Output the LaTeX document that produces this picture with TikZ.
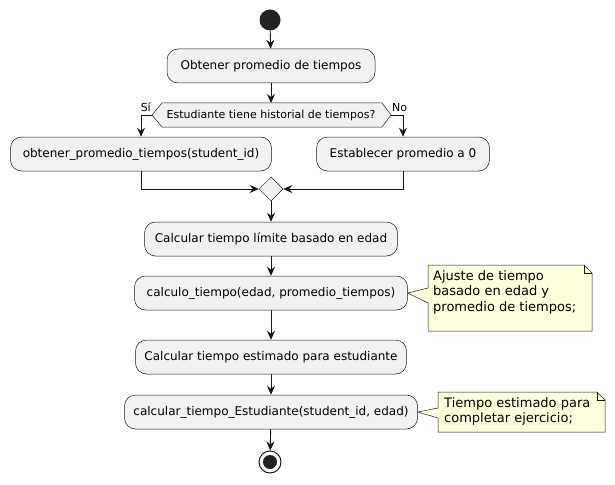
\documentclass[tikz,border=0pt]{standalone}
\usepackage{fontspec}
\setmainfont{DejaVu Sans}
\usetikzlibrary{arrows.meta,shapes.geometric}
\definecolor{boxfill}{HTML}{F1F1F1}
\definecolor{lineclr}{HTML}{181818}
\definecolor{notefill}{HTML}{FEFFDD}
\definecolor{dotclr}{HTML}{222222}
\begin{document}
\begin{tikzpicture}[x=1pt,y=-1pt,
  actbox/.style={draw=lineclr,fill=boxfill,line width=0.5pt,rounded corners=11pt,
    minimum height=34pt,inner sep=0pt,font=\fontsize{12}{14}\selectfont},
  flow/.style={draw=lineclr,line width=0.9pt,-{Stealth[length=9pt,width=8pt,inset=3pt]}},
  plain/.style={draw=lineclr,line width=0.9pt},
  notebox/.style={draw=lineclr,fill=notefill,line width=0.5pt},
  notetext/.style={align=left,anchor=north west,inner sep=0pt,font=\fontsize{13}{15.5}\selectfont},
  lbl/.style={font=\fontsize{11}{13}\selectfont,inner sep=0pt}]
\useasboundingbox (0,0) rectangle (615,484);
% start
\node[circle,fill=dotclr,minimum size=21pt,inner sep=0pt] (start) at (270,20) {};
\node[actbox,minimum width=208pt] (b1) at (271,66) {Obtener promedio de tiempos};
% decision hexagon
\coordinate (hl) at (152,115);
\coordinate (hr) at (391,115);
\draw[draw=lineclr,fill=boxfill,line width=0.5pt] (hl) -- (162,103) -- (382,103) -- (hr) -- (382,127) -- (162,127) -- cycle;
\node[lbl] (dec) at (271,115.5) {Estudiante tiene historial de tiempos?};
\node[lbl,anchor=south east] (si) at (151,112) {Sí};
\node[lbl,anchor=south west] (no) at (392,112) {No};
% branches
\node[actbox,minimum width=261pt] (b2) at (141,154) {obtener\_promedio\_tiempos(student\_id)};
\node[actbox,minimum width=173pt] (b3) at (403,154) {Establecer promedio a 0};
% merge
\node[diamond,draw=lineclr,fill=boxfill,line width=0.5pt,minimum size=24pt,inner sep=0pt] (m) at (271,189) {};
\node[actbox,minimum width=253pt] (b4) at (271,239) {Calcular tiempo límite basado en edad};
\node[actbox,minimum width=273pt] (b5) at (271,293) {calculo\_tiempo(edad, promedio\_tiempos)};
\node[actbox,minimum width=271pt] (b6) at (271,357) {Calcular tiempo estimado para estudiante};
\node[actbox,minimum width=293pt] (b7) at (271,412) {calcular\_tiempo\_Estudiante(student\_id, edad)};
% end
\node[circle,draw=lineclr,line width=1pt,fill=white,minimum size=22pt,inner sep=0pt] (end) at (270,462) {};
\node[circle,fill=dotclr,minimum size=14pt,inner sep=0pt] (endin) at (270,462) {};
% notes
\draw[notebox] (b5.east) -- (428,288) -- (428,265) -- (584,265) -- (592,273) -- (592,331) -- (428,331) -- (428,303) -- cycle;
\draw[draw=lineclr,line width=0.5pt] (584,265) -- (584,273) -- (592,273);
\node[notetext] (n1) at (433,270) {Ajuste de tiempo\\basado en edad y\\promedio de tiempos;};
\draw[notebox] (b7.east) -- (438,408) -- (438,392) -- (597,392) -- (605,400) -- (605,432) -- (438,432) -- (438,418) -- cycle;
\draw[draw=lineclr,line width=0.5pt] (597,392) -- (597,400) -- (605,400);
\node[notetext] (n2) at (444,397) {Tiempo estimado para\\completar ejercicio;};
% connectors
\draw[flow] (start) -- (b1);
\draw[flow] (b1) -- (271,103);
\draw[flow] (hl) -| (b2.north);
\draw[flow] (hr) -| (b3.north);
\draw[flow] (b2.south) |- (m.west);
\draw[flow] (b3.south) |- (m.east);
\draw[flow] (m.south) -- (b4.north);
\draw[flow] (b4) -- (b5);
\draw[flow] (b5) -- (b6);
\draw[flow] (b6) -- (b7);
\draw[flow] (b7) -- (end);
\end{tikzpicture}
\end{document}
